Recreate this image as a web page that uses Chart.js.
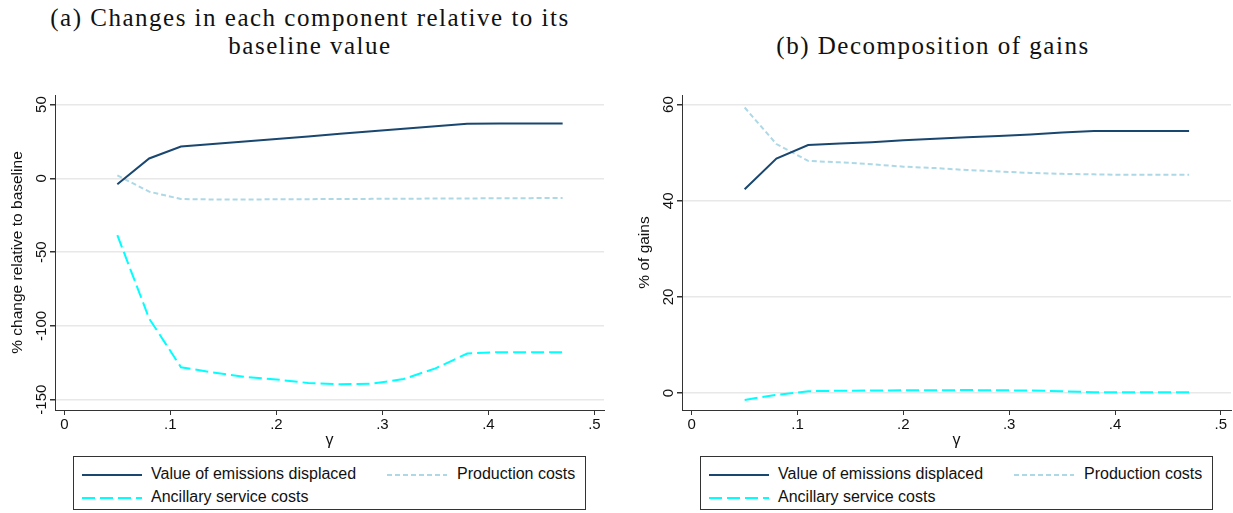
<!DOCTYPE html>
<html>
<head>
<meta charset="utf-8">
<script src="https://cdn.jsdelivr.net/npm/chart.js@4.4.1/dist/chart.umd.min.js"></script>
<style>
  body { margin: 0; background: #fff; width: 1233px; height: 513px; position: relative; overflow: hidden; }
  canvas { position: absolute; top: 0; }
  .title { position: absolute; font-family: "Liberation Serif", serif; font-size: 25px; letter-spacing: 1.5px; color: #111; text-align: center; line-height: 28px; }
  .legend { position: absolute; top: 456px; height: 54px; border: 1px solid #333; box-sizing: border-box;
            font-family: "Liberation Sans", Arial, sans-serif; font-size: 16px; color: #111; }
  .item { position: absolute; white-space: nowrap; }
  .item svg { position: absolute; top: 0; }
  .item span { position: absolute; top: -2px; }
</style>
</head>
<body>
<div class="title" style="left:0px; width:620px; top:4px;">(a) Changes in each component relative to its<br>baseline value</div>
<div class="title" style="left:633px; width:600px; top:32px;">(b) Decomposition of gains</div>

<canvas id="chartA" width="615" height="450" style="left:0"></canvas>
<canvas id="chartB" width="613" height="450" style="left:620px"></canvas>

<div class="legend" id="legA" style="left:73px; width:513px;"></div>
<div class="legend" id="legB" style="left:700px; width:513px;"></div>

<script>
// gamma grid
var gamma = [0.05, 0.08, 0.11, 0.14, 0.17, 0.20, 0.23, 0.26, 0.29, 0.32, 0.35, 0.38, 0.41, 0.44, 0.47];

// (a) % change relative to baseline
var emisA = [-4, 13.5, 21.6, 23.3, 25.0, 26.7, 28.4, 30.2, 31.9, 33.6, 35.3, 37.0, 37.1, 37.1, 37.1];
var prodA = [2, -9, -14, -14.3, -14.3, -14.2, -14.1, -14.0, -13.9, -13.8, -13.7, -13.6, -13.5, -13.4, -13.3];
var ancA  = [-38.5, -95, -128, -131.5, -134.5, -136.3, -138.7, -139.6, -139.2, -136, -128.8, -118.7, -117.8, -117.8, -117.8];

// (b) % of gains
var emisB = [42.4, 48.8, 51.6, 51.9, 52.2, 52.6, 52.9, 53.2, 53.5, 53.8, 54.2, 54.5, 54.5, 54.5, 54.5];
var prodB = [59.4, 51.8, 48.3, 48.0, 47.6, 47.1, 46.8, 46.4, 46.1, 45.8, 45.6, 45.5, 45.4, 45.4, 45.4];
var ancB  = [-1.4, -0.35, 0.4, 0.5, 0.55, 0.6, 0.6, 0.65, 0.6, 0.55, 0.4, 0.2, 0.2, 0.2, 0.2];

var seriesNames = ["Value of emissions displaced", "Production costs", "Ancillary service costs"];
var xTicks = [0, 0.1, 0.2, 0.3, 0.4, 0.5];
var xTickLabels = ["0", ".1", ".2", ".3", ".4", ".5"];
var yTicksA = [-150, -100, -50, 0, 50];
var yTicksB = [0, 20, 40, 60];

var colors = ["#1a476f", "#add8e6", "#00ffff"];
var dashes = [[], [5, 3], [13, 5]];
var sans = "'Liberation Sans', Arial, sans-serif";

function pts(ys) {
  return gamma.map(function (g, i) { return { x: g, y: ys[i] }; });
}

// rotated y tick labels like Stata
var rotYLabels = {
  id: 'rotYLabels',
  afterDraw: function (chart, args, opts) {
    var y = chart.scales.y, ctx = chart.ctx;
    ctx.save();
    ctx.fillStyle = '#111';
    ctx.font = '15px ' + sans;
    ctx.textAlign = 'center';
    ctx.textBaseline = 'middle';
    y.ticks.forEach(function (t) {
      var py = y.getPixelForValue(t.value);
      ctx.save();
      ctx.translate(opts.x, py);
      ctx.rotate(-Math.PI / 2);
      ctx.fillText(String(t.value), 0, 0);
      ctx.restore();
    });
    ctx.restore();
  }
};

function makeChart(id, data, yTicks, xr, yr, yTitle, yAxisW, padRight, titlePad, labelX) {
  return new Chart(document.getElementById(id), {
    type: 'line',
    data: {
      datasets: data.map(function (d, i) {
        return {
          label: seriesNames[i],
          data: pts(d),
          borderColor: colors[i],
          borderDash: dashes[i],
          borderWidth: 2,
          pointRadius: 0,
          tension: 0,
          fill: false
        };
      })
    },
    options: {
      responsive: false,
      animation: false,
      layout: { padding: { top: 95, right: padRight, bottom: 0, left: 0 } },
      plugins: { legend: { display: false }, tooltip: { enabled: false }, rotYLabels: { x: labelX } },
      scales: {
        x: {
          type: 'linear', min: xr[0], max: xr[1],
          afterBuildTicks: function (s) { s.ticks = xTicks.map(function (v) { return { value: v }; }); },
          afterFit: function (s) { s.height = 40; },
          grid: { drawOnChartArea: false, drawTicks: true, tickLength: 5, tickColor: '#333' },
          border: { display: true, color: '#333', width: 1 },
          ticks: {
            color: '#111', font: { size: 15, family: sans }, padding: 1, maxRotation: 0,
            callback: function (v, i) { return xTickLabels[i]; }
          },
          title: { display: true, text: 'γ', color: '#111', font: { size: 16, family: sans }, padding: { top: 0, bottom: 0 } }
        },
        y: {
          type: 'linear', min: yr[0], max: yr[1],
          afterBuildTicks: function (s) { s.ticks = yTicks.map(function (v) { return { value: v }; }); },
          afterFit: function (s) { s.width = yAxisW; },
          grid: { color: '#e8e8e8', lineWidth: 1.5, drawTicks: true, tickLength: 5, tickColor: '#333' },
          border: { display: true, color: '#333', width: 1 },
          ticks: { display: false },
          title: { display: true, text: yTitle, color: '#111', font: { size: 15.5, family: sans }, padding: { top: titlePad, bottom: 0 } }
        }
      }
    },
    plugins: [rotYLabels]
  });
}

makeChart('chartA', [emisA, prodA, ancA], yTicksA, [-0.0088, 0.509], [-157, 56.5],
  '% change relative to baseline', 55, 11, 8, 42);
makeChart('chartB', [emisB, prodB, ancB], yTicksB, [-0.0092, 0.5096], [-3.5, 62],
  '% of gains', 62, 2, 15, 49);

// legends (Stata-style boxed, two columns)
function buildLegend(id) {
  var el = document.getElementById(id);
  var spots = [[8, 10, 77], [313, 10, 383], [8, 33, 77]];
  seriesNames.forEach(function (name, i) {
    var s = spots[i];
    var item = document.createElement('div');
    item.className = 'item';
    item.style.left = s[0] + 'px';
    item.style.top = s[1] + 'px';
    var dash = dashes[i].length ? 'stroke-dasharray="' + dashes[i].join(',') + '"' : '';
    item.innerHTML = '<svg width="60" height="16" style="left:0"><line x1="0" y1="8" x2="60" y2="8" stroke="' +
      colors[i] + '" stroke-width="2" ' + dash + '/></svg>' +
      '<span style="left:' + (s[2] - s[0]) + 'px">' + name + '</span>';
    el.appendChild(item);
  });
}
buildLegend('legA');
buildLegend('legB');
</script>
</body>
</html>
